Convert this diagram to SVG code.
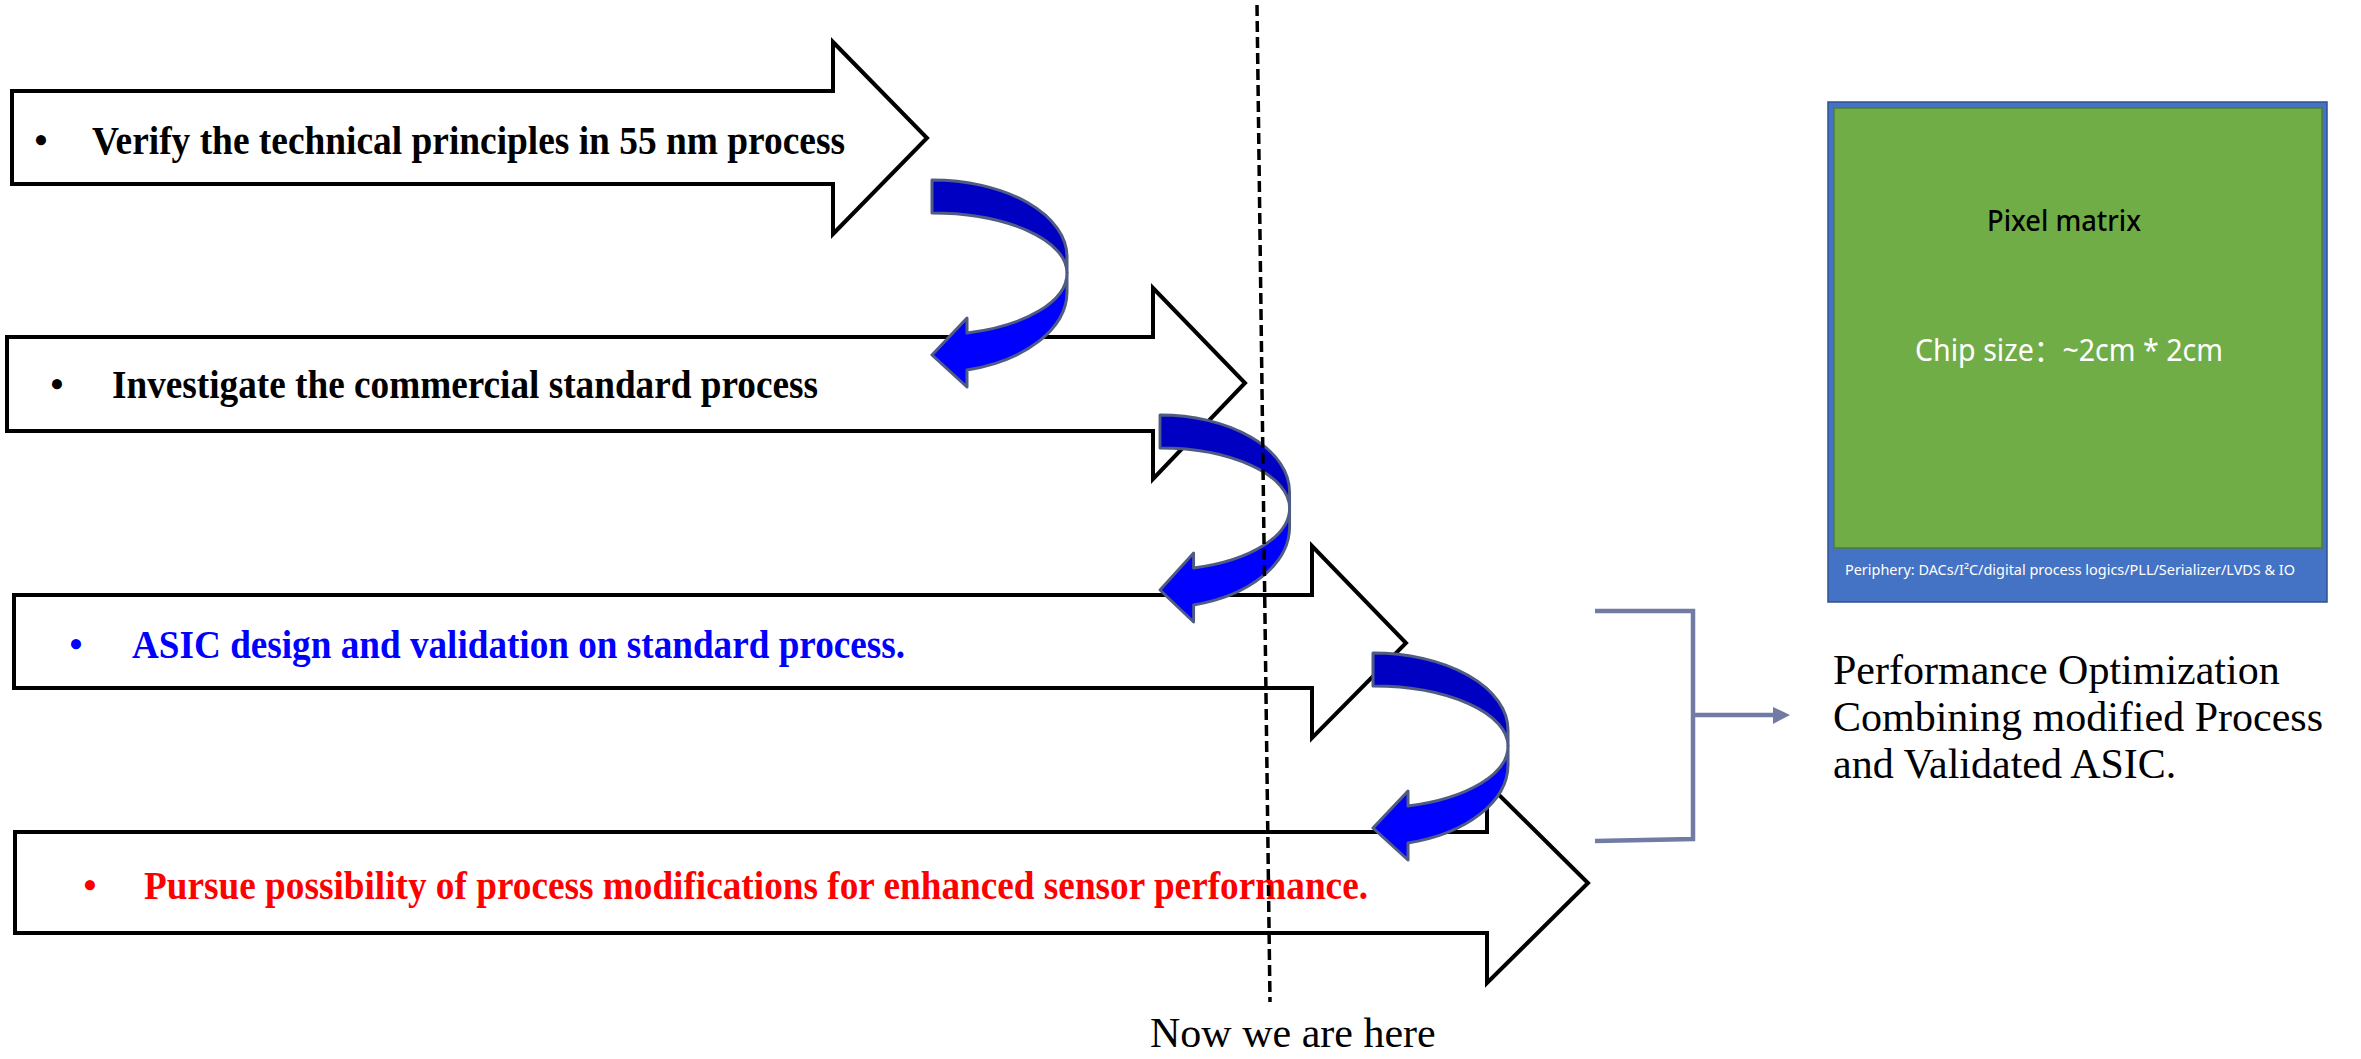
<svg xmlns="http://www.w3.org/2000/svg" width="2361" height="1059" viewBox="0 0 2361 1059">
<style>
.blk{fill:#fff;stroke:#000;stroke-width:4;stroke-linejoin:miter}
.step{font-family:"Liberation Serif","Times New Roman",serif;font-weight:bold;font-size:39px}
.bul{font-family:"Liberation Serif","Times New Roman",serif;font-weight:bold;font-size:37px;text-anchor:middle}
.dark{fill:#0000C2;stroke:#505C84;stroke-width:3;stroke-linejoin:round}
.bright{fill:#0000FF;stroke:#505C84;stroke-width:3;stroke-linejoin:round}
.serif{font-family:"Liberation Serif","Times New Roman",serif;font-size:42px;fill:#000}
.chip{font-family:"Noto Sans","Noto Sans CJK SC",sans-serif}
.conn{fill:none;stroke:#717BA3;stroke-width:4.5}
</style>
<defs>
<g id="curl">
<path class="dark" d="M0 0 A135 77 0 0 1 135 77 L135 93 A135 60 0 0 0 0 33 Z"/>
<path class="bright" d="M135 93 L135 112 A135 81 0 0 1 35 190 L35 207 L0 175 L35 138 L35 153 A135 62 0 0 0 135 93 Z"/>
</g>
</defs>
<rect width="2361" height="1059" fill="#fff"/>

<g id="step1">
<polygon class="blk" points="12,91 833,91 833,42 927,138 833,234 833,184 12,184"/>
<text class="bul" x="41" y="153">•</text>
<text class="step" x="92" y="154" textLength="753" lengthAdjust="spacingAndGlyphs">Verify the technical principles in 55 nm process</text>
</g>
<g id="step2">
<polygon class="blk" points="7,337 1153,337 1153,288 1245,383 1153,479 1153,431 7,431"/>
<text class="bul" x="57" y="397">•</text>
<text class="step" x="112" y="398" textLength="706" lengthAdjust="spacingAndGlyphs">Investigate the commercial standard process</text>
</g>
<g id="step3">
<polygon class="blk" points="14,595 1312,595 1312,546 1406,643 1312,738 1312,688 14,688"/>
<text class="bul" x="76" y="657" fill="#0000FF">•</text>
<text class="step" x="132" y="658" fill="#0000FF" textLength="773" lengthAdjust="spacingAndGlyphs">ASIC design and validation on standard process.</text>
</g>
<g id="step4">
<polygon class="blk" points="15,832 1487,832 1487,783 1588,883 1487,983 1487,933 15,933"/>
<text class="bul" x="90" y="898" fill="#FF0000">•</text>
<text class="step" x="144" y="899" fill="#FF0000" textLength="1224" lengthAdjust="spacingAndGlyphs">Pursue possibility of process modifications for enhanced sensor performance.</text>
</g>

<g id="chip">
<rect x="1828" y="102" width="499" height="500" fill="#4472C4" stroke="#2F528F" stroke-width="1.5"/>
<rect x="1834" y="108" width="488" height="440" fill="#70AD47" stroke="#507E32" stroke-width="1.5"/>
<text class="chip" x="1987" y="231" font-size="29" font-weight="500" fill="#000" textLength="154" lengthAdjust="spacingAndGlyphs">Pixel matrix</text>
<text class="chip" x="1915" y="361" font-size="30" fill="#fff" textLength="308" lengthAdjust="spacingAndGlyphs">Chip size：~2cm * 2cm</text>
<text class="chip" x="1845" y="575" font-size="14" fill="#fff" textLength="450" lengthAdjust="spacingAndGlyphs">Periphery: DACs/I²C/digital process logics/PLL/Serializer/LVDS &amp; IO</text>
</g>

<g id="result">
<text class="serif" x="1833" y="684">Performance Optimization</text>
<text class="serif" x="1833" y="731">Combining modified Process</text>
<text class="serif" x="1833" y="778">and Validated ASIC.</text>
</g>

<g id="connectors">
<use href="#curl" transform="translate(932,180)"/>
<use href="#curl" transform="translate(1160,415) scale(0.96,1)"/>
<use href="#curl" transform="translate(1373,653)"/>
<path class="conn" d="M1595 611 L1693 611 L1693 839 L1595 841"/>
<line class="conn" x1="1693" y1="715" x2="1775" y2="715"/>
<polygon points="1773,707 1790,715 1773,724" fill="#717BA3"/>
</g>

<g id="now">
<line x1="1257" y1="5" x2="1270" y2="1002" stroke="#000" stroke-width="3.5" stroke-dasharray="11 5"/>
<text class="serif" x="1150" y="1047">Now we are here</text>
</g>
</svg>
